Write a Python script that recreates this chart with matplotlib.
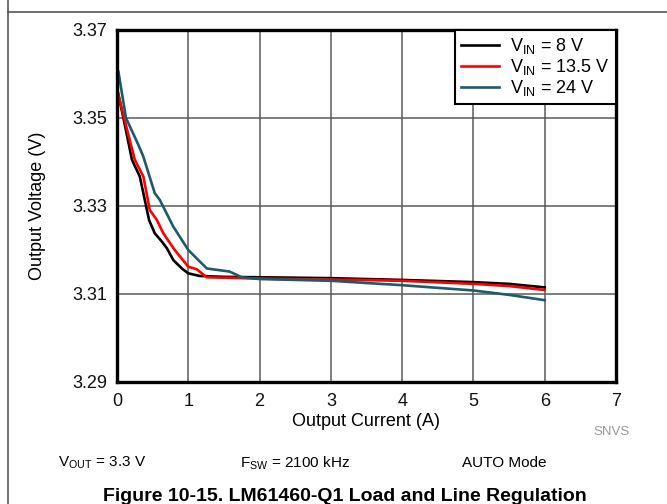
import numpy as np
import matplotlib
matplotlib.use("Agg")
import matplotlib.pyplot as plt
from matplotlib.lines import Line2D

plt.rcParams['font.family'] = ['Liberation Sans', 'DejaVu Sans']
plt.rcParams['mathtext.fontset'] = 'custom'
plt.rcParams['mathtext.rm'] = 'Liberation Sans'
plt.rcParams['mathtext.it'] = 'Liberation Sans'

# Load regulation data
x_8v = [0, 0.09, 0.21, 0.32, 0.45, 0.53, 0.63, 0.70, 0.79, 0.91, 1.0, 1.16, 1.5, 2, 3, 4, 5, 5.5, 6]
y_8v = [3.3568, 3.350, 3.3405, 3.3367, 3.3268, 3.3238, 3.3219, 3.3204, 3.3177, 3.3158,
        3.3147, 3.3141, 3.3139, 3.3138, 3.3136, 3.3132, 3.3127, 3.3123, 3.3115]

x_13v5 = [0, 0.10, 0.25, 0.37, 0.46, 0.56, 0.65, 0.81, 1.0, 1.12, 1.26, 2, 3, 4, 5, 5.5, 6]
y_13v5 = [3.3565, 3.350, 3.3405, 3.3367, 3.3291, 3.3268, 3.3238, 3.3200, 3.3162, 3.3156,
          3.3138, 3.3135, 3.3133, 3.3130, 3.3123, 3.3118, 3.3109]

x_24v = [0.02, 0.126, 0.30, 0.37, 0.53, 0.6, 0.79, 1.0, 1.26, 1.58, 1.75, 2, 3, 4, 5, 5.5, 6]
y_24v = [3.3605, 3.350, 3.3439, 3.3412, 3.3329, 3.3314, 3.3253, 3.320, 3.3158, 3.3151,
         3.3138, 3.3134, 3.3130, 3.3120, 3.3108, 3.3098, 3.3086]

labels = [r'V$_{\mathrm{IN}}$ = 8 V', r'V$_{\mathrm{IN}}$ = 13.5 V', r'V$_{\mathrm{IN}}$ = 24 V']
colors = ['#000000', '#ff0000', '#1b5b6b']

x_ticks = [0, 1, 2, 3, 4, 5, 6, 7]
y_ticks = [3.29, 3.31, 3.33, 3.35, 3.37]

fig = plt.figure(figsize=(6.67, 5.04), dpi=100)
ax = fig.add_axes([117 / 667, 1 - 382 / 504, 499 / 667, 352 / 504])

for xs, ys, lab, col in zip([x_8v, x_13v5, x_24v], [y_8v, y_13v5, y_24v], labels, colors):
    ax.plot(xs, ys, color=col, lw=1.9, label=lab, zorder=3)

ax.set_xlim(0, 7)
ax.set_ylim(3.29, 3.37)
ax.set_xticks(x_ticks)
ax.set_yticks(y_ticks)
ax.set_yticklabels([f'{v:.2f}' for v in y_ticks])
ax.tick_params(axis='y', length=0, labelsize=13, pad=7, colors='#111111')
ax.tick_params(axis='x', length=0, labelsize=13, pad=8, colors='#111111')
ax.grid(True, color='#5a5a5a', lw=1.1)
for s in ax.spines.values():
    s.set_linewidth(2.4)
    s.set_color('black')
    s.set_zorder(5)

ax.set_xlabel('Output Current (A)', fontsize=13, labelpad=2)
ax.set_ylabel('Output Voltage (V)', fontsize=13, labelpad=19)

leg = ax.legend(loc='upper right', fontsize=13, frameon=True, fancybox=False,
                borderaxespad=0, edgecolor='black', framealpha=1,
                handlelength=2.1, handletextpad=0.6, labelspacing=0.05, borderpad=0.35)
leg.get_frame().set_linewidth(1.5)
leg.set_zorder(6)

# outer frame lines
fig.add_artist(Line2D([8 / 667, 8 / 667], [0, 1], color='#555555', lw=1.2))
fig.add_artist(Line2D([8 / 667, 1], [1 - 11.5 / 504, 1 - 11.5 / 504], color='#555555', lw=1.2))

fig.text(630 / 667, 1 - 432 / 504, 'SNVS', fontsize=9.5, color='#999999', ha='right', va='center')
fig.text(58 / 667, 1 - 463 / 504, r'V$_{\mathrm{OUT}}$ = 3.3 V', fontsize=11, va='center')
fig.text(240 / 667, 1 - 463 / 504, r'F$_{\mathrm{SW}}$ = 2100 kHz', fontsize=11, va='center')
fig.text(462 / 667, 1 - 463 / 504, 'AUTO Mode', fontsize=11, va='center')
fig.text(345 / 667, 1 - 501 / 504, 'Figure 10-15. LM61460-Q1 Load and Line Regulation',
         fontsize=14, fontweight='bold', ha='center', va='baseline')

fig.savefig('out.png', dpi=100)
